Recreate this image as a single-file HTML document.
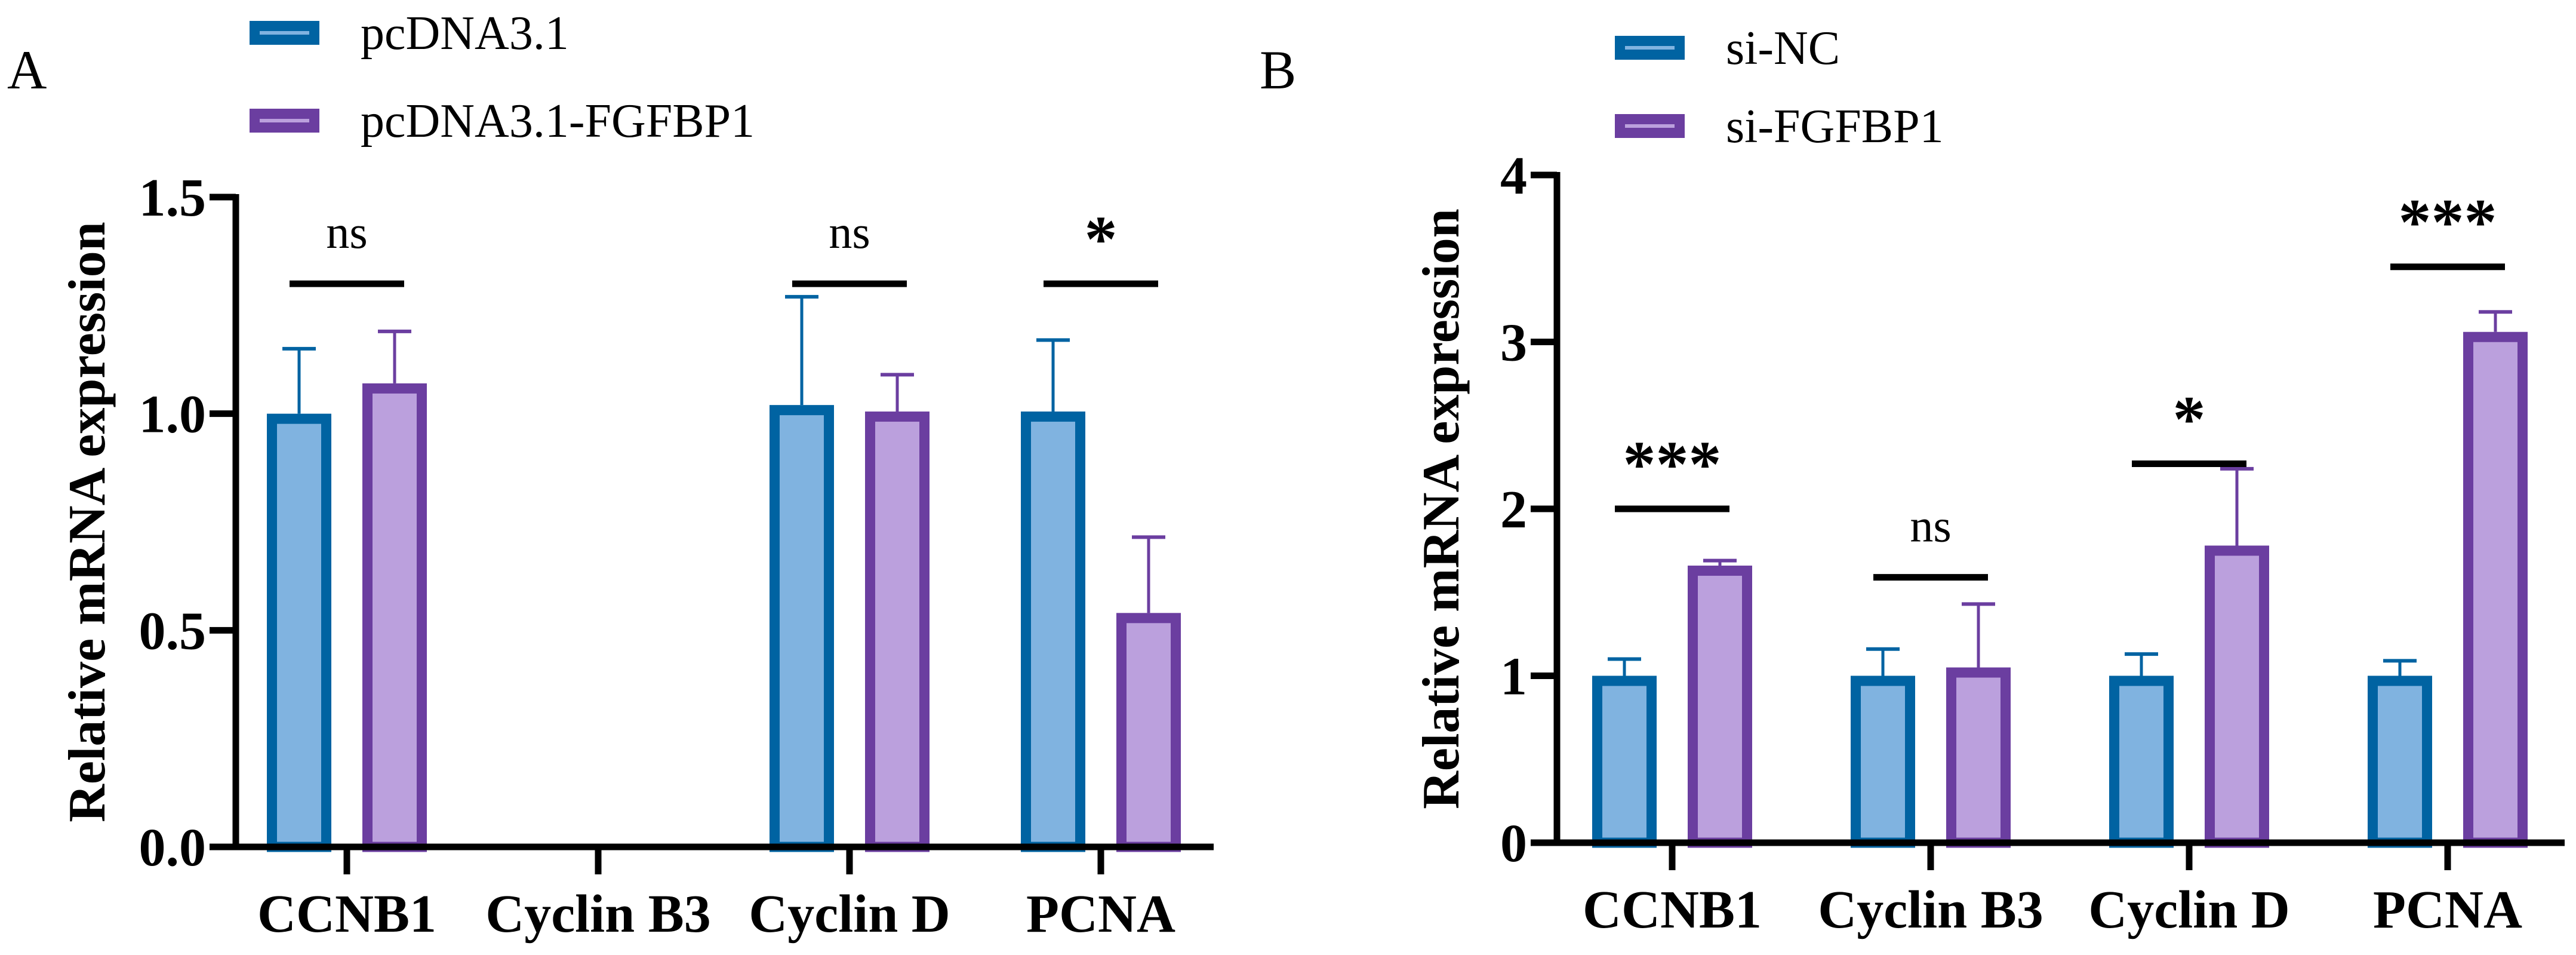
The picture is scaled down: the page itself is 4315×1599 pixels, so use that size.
<!DOCTYPE html>
<html><head><meta charset="utf-8"><style>
html,body{margin:0;padding:0;background:#fff;}
svg{display:block;font-family:"Liberation Serif",serif;}
svg text{font-family:"Liberation Serif",serif;}
</style></head><body>
<svg id="fig" width="4315" height="1599" viewBox="0 0 4315 1599" xmlns="http://www.w3.org/2000/svg"></svg>
<script>
const categories = ["CCNB1","Cyclin B3","Cyclin D","PCNA"];
// Panel A
const aCtrl = [1.0, null, 1.02, 1.005];
const aCtrlErr = [0.15, null, 0.25, 0.165];
const aTreat = [1.07, null, 1.005, 0.54];
const aTreatErr = [0.12, null, 0.085, 0.175];
const aSig = ["ns", null, "ns", "*"];
const aSigY = [1.3, null, 1.3, 1.3];
const aTicks = ["0.0","0.5","1.0","1.5"];
const aTickVals = [0,0.5,1,1.5];
// Panel B
const bCtrl = [1.0, 1.0, 1.0, 1.0];
const bCtrlErr = [0.1, 0.16, 0.13, 0.09];
const bTreat = [1.66, 1.05, 1.78, 3.06];
const bTreatErr = [0.03, 0.38, 0.46, 0.12];
const bSig = ["***","ns","*","***"];
const bSigY = [2.0, 1.59, 2.27, 3.45];
const bTicks = ["0","1","2","3","4"];
const bTickVals = [0,1,2,3,4];

const NS="http://www.w3.org/2000/svg";
const svg=document.getElementById('fig');
function mk(tag,attrs,parent){const e=document.createElementNS(NS,tag);for(const k in attrs)e.setAttribute(k,attrs[k]);if(tag==='text')e.setAttribute('font-family','Liberation Serif, serif');(parent||svg).appendChild(e);return e;}

const BLUE="#0063a2",BLUEF="#80b3e0",PUR="#6b3ea0",PURF="#bba0dd";

function panel(p){
  const g=mk('g',{});
  
  
  const y=v=>p.y0-(v/p.ymax)*(p.y0-p.ytop);
  const x=i=>p.xt[0]+i*(p.xt[1]-p.xt[0]);
  function bar(i,val,err,dx,stroke,fill,nm){
    if(val==null) return;
    const cx=x(i)+dx, w=108, bw=17;
    const top=y(val);
    const eb=mk('line',{x1:cx,x2:cx,y1:top,y2:y(val+err),stroke:stroke,'stroke-width':5},g);
    
    
    const cap=mk('line',{x1:cx-28,x2:cx+28,y1:y(val+err),y2:y(val+err),stroke:stroke,'stroke-width':6},g);
    
    
    const r=mk('rect',{x:cx-w/2+bw/2,y:top+bw/2,width:w-bw,height:Math.max(0,p.y0-top-bw/2),fill:fill,stroke:stroke,'stroke-width':bw},g);
    
    
  }
  categories.forEach((c,i)=>{
    const key=c.toLowerCase().replace(/ /g,'-');
    bar(i,p.ctrl[i],p.ctrlErr[i],-80,BLUE,BLUEF,'bar-'+key+'-control');
    bar(i,p.treat[i],p.treatErr[i],80,PUR,PURF,'bar-'+key+'-treated');
    if(p.sig[i]!=null){
      const sy=y(p.sigY[i]);
      const l=mk('line',{x1:x(i)-96,x2:x(i)+96,y1:sy,y2:sy,stroke:'#000','stroke-width':11},g);
      
      
      const star=p.sig[i]!=='ns';
      const t=mk('text',{x:x(i),y:star?sy-38:sy-60,'text-anchor':'middle','font-size':star?110:78,'font-weight':star?'bold':'normal'},g);
      t.textContent=p.sig[i];
      
      
    }
    const tk=mk('line',{x1:x(i),x2:x(i),y1:p.y0,y2:p.y0+46,stroke:'#000','stroke-width':11},g);
    
    
    const lb=mk('text',{x:x(i),y:p.y0+142,'text-anchor':'middle','font-size':90,'font-weight':'bold'},g);
    lb.textContent=c;
    
    
  });
  const ya=mk('line',{x1:p.ax,x2:p.ax,y1:p.ytop-5,y2:p.y0+5,stroke:'#000','stroke-width':11},g);
  
  
  const xa=mk('line',{x1:p.ax-44,x2:p.xend,y1:p.y0,y2:p.y0,stroke:'#000','stroke-width':11},g);
  
  
  p.tickVals.forEach((v,k)=>{
    const ty=y(v);
    const t=mk('line',{x1:p.ax-44,x2:p.ax,y1:ty,y2:ty,stroke:'#000','stroke-width':11},g);
    
    
    const tl=mk('text',{x:p.ax-50,y:ty+31,'text-anchor':'end','font-size':90,'font-weight':'bold'},g);
    tl.textContent=p.ticks[k];
    
    
  });
  const yt=mk('text',{x:0,y:0,transform:`translate(${p.titleX},${(p.ytop+p.y0)/2}) rotate(-90)`,'text-anchor':'middle','font-size':88,'font-weight':'bold'},g);
  yt.textContent='Relative mRNA expression';
  
  
  [[p.leg[0],BLUE,BLUEF,p.legY[0],'legend-control'],[p.leg[1],PUR,PURF,p.legY[1],'legend-treated']].forEach(L=>{
    const r=mk('rect',{x:p.legX,y:L[3],width:117,height:40,fill:L[1]},g);
    
    
    const il=mk('rect',{x:p.legX+17,y:L[3]+17,width:83,height:6,fill:L[2]},g);
    
    
    const t=mk('text',{x:p.legX+186,y:L[3]+47,'font-size':80},g);
    t.textContent=L[0];
    
    
  });
  const pl=mk('text',{x:p.letterX,y:148,'font-size':92},g);
  pl.textContent=p.letter;
  
  
}

panel({name:'panel-a',ax:395,ytop:330,y0:1418,ymax:1.5,xt:[581,1002],xend:2033,
  ctrl:aCtrl,ctrlErr:aCtrlErr,treat:aTreat,treatErr:aTreatErr,sig:aSig,sigY:aSigY,
  ticks:aTicks,tickVals:aTickVals,titleX:175,leg:['pcDNA3.1','pcDNA3.1-FGFBP1'],legX:418,legY:[35,182],letter:'A',letterX:12});
panel({name:'panel-b',ax:2608,ytop:293,y0:1411,ymax:4,xt:[2801,3234],xend:4296,
  ctrl:bCtrl,ctrlErr:bCtrlErr,treat:bTreat,treatErr:bTreatErr,sig:bSig,sigY:bSigY,
  ticks:bTicks,tickVals:bTickVals,titleX:2443,leg:['si-NC','si-FGFBP1'],legX:2705,legY:[60,191],letter:'B',letterX:2110});
</script>
</body></html>
